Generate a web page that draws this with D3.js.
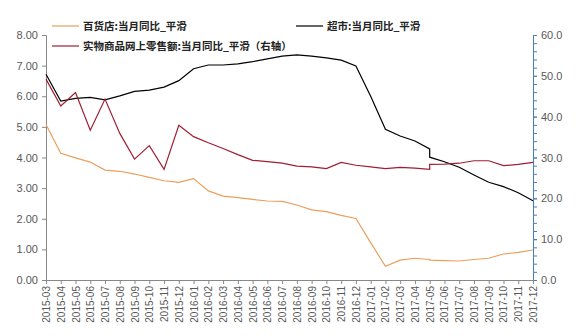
<!DOCTYPE html>
<html><head><meta charset="utf-8">
<script src="https://cdn.jsdelivr.net/npm/d3@7"></script>
<style>
html,body{margin:0;padding:0;background:#fff;}
svg{display:block;}
</style></head>
<body><svg id="c" width="585" height="336"></svg>
<script>
const months = ["2015-03","2015-04","2015-05","2015-06","2015-07","2015-08","2015-09","2015-10","2015-11","2015-12",
"2016-01","2016-02","2016-03","2016-04","2016-05","2016-06","2016-07","2016-08","2016-09","2016-10","2016-11","2016-12",
"2017-01","2017-02","2017-03","2017-04","2017-05","2017-06","2017-07","2017-08","2017-09","2017-10","2017-11","2017-12"];

// 百货店 (left axis)
const deptStore = [5.08,4.14,3.99,3.85,3.59,3.55,3.46,3.35,3.24,3.19,
3.31,2.91,2.74,2.69,2.63,2.58,2.57,2.45,2.29,2.23,2.11,2.01,
1.22,0.45,0.65,0.71,0.67,0.63,0.62,0.67,0.71,0.85,0.90,0.98];
// 超市 (left axis)
const supermarket = [6.72,5.84,5.93,5.96,5.88,6.01,6.16,6.20,6.30,6.51,
6.90,7.02,7.02,7.06,7.13,7.22,7.31,7.35,7.31,7.25,7.18,6.99,
6.00,4.92,4.70,4.54,4.28,3.86,3.68,3.43,3.19,3.05,2.85,2.59];
// 实物商品网上零售额 (right axis)
const onlineRetail = [49.2,42.6,45.9,36.7,44.3,35.9,29.6,32.9,27.1,37.9,
35.1,33.6,32.2,30.7,29.3,29.0,28.6,27.9,27.7,27.3,28.8,28.1,
27.7,27.3,27.6,27.4,27.1,28.4,28.6,29.2,29.2,28.0,28.3,28.8];
// values right after the break at 2017-05
const breakMonth = "2017-05";
const deptStoreAfter = 0.65, supermarketAfter = 4.01, onlineRetailAfter = 28.3;

const leftTicks = [0,1,2,3,4,5,6,7,8];
const rightTicks = [0,10,20,30,40,50,60];

const legendNames = ["百货店:当月同比_平滑","超市:当月同比_平滑","实物商品网上零售额:当月同比_平滑（右轴）"];
const colors = ["#E9A05C","#000000","#A01E33"];

const svg = d3.select("#c");
const L = 46, R = 533, T = 35, B = 280;

const x = d3.scalePoint().domain(months).range([L, R]);
const yL = d3.scaleLinear().domain([0, 8]).range([B, T]);
const yR = d3.scaleLinear().domain([0, 60]).range([B, T]);

const font = "Liberation Sans, Arial, sans-serif";

// left axis
const gL = svg.append("g").attr("transform", `translate(${L},0)`)
  .call(d3.axisLeft(yL).tickValues(leftTicks).tickFormat(d3.format(".2f")).tickSize(4).tickPadding(4));
gL.select(".domain").attr("stroke","#888");
gL.selectAll(".tick line").attr("stroke","#888");
gL.selectAll(".tick text").attr("fill","#595959").style("font-family",font).style("font-size","11px");

// right axis: minor ticks
const gRm = svg.append("g").attr("transform", `translate(${R},0)`)
  .call(d3.axisRight(yR).tickValues(d3.range(0, 61, 2)).tickFormat("").tickSize(4));
gRm.select(".domain").attr("stroke","#4A7EBB");
gRm.selectAll(".tick line").attr("stroke","#4A7EBB");
const gR = svg.append("g").attr("transform", `translate(${R},0)`)
  .call(d3.axisRight(yR).tickValues(rightTicks).tickFormat(d3.format(".1f")).tickSize(4).tickPadding(4));
gR.select(".domain").attr("stroke","#4A7EBB");
gR.selectAll(".tick line").attr("stroke","#4A7EBB");
gR.selectAll(".tick text").attr("fill","#595959").style("font-family",font).style("font-size","11px");

// x axis
const gX = svg.append("g").attr("transform", `translate(0,${B})`)
  .call(d3.axisBottom(x).tickSize(4).tickPadding(3));
gX.select(".domain").attr("stroke","#888");
gX.selectAll(".tick line").attr("stroke","#888");
gX.selectAll(".tick text")
  .attr("fill","#595959").style("font-family",font).style("font-size","10px")
  .attr("transform","rotate(-90)")
  .attr("text-anchor","end")
  .attr("x",-6).attr("y",0).attr("dy","0.35em");

function pts(vals, after, ys) {
  const out = [];
  months.forEach((m, i) => {
    out.push([x(m), ys(vals[i])]);
    if (m === breakMonth) out.push([x(m), ys(after)]);
  });
  return out;
}
const line = d3.line();
const series = [
  {vals: deptStore, after: deptStoreAfter, ys: yL, c: colors[0]},
  {vals: supermarket, after: supermarketAfter, ys: yL, c: colors[1]},
  {vals: onlineRetail, after: onlineRetailAfter, ys: yR, c: colors[2]}
];
series.forEach(s => {
  svg.append("path").attr("d", line(pts(s.vals, s.after, s.ys)))
    .attr("fill","none").attr("stroke", s.c).attr("stroke-width", 1.2);
});

// legend
const leg = [
  {x: 52, y: 26, name: legendNames[0], c: colors[0]},
  {x: 296, y: 26, name: legendNames[1], c: colors[1]},
  {x: 52, y: 46, name: legendNames[2], c: colors[2]}
];
leg.forEach(d => {
  svg.append("line").attr("x1", d.x).attr("x2", d.x + 27).attr("y1", d.y).attr("y2", d.y)
    .attr("stroke", d.c).attr("stroke-width", 1.2);
  svg.append("text").attr("x", d.x + 31).attr("y", d.y).attr("dy","0.35em")
    .attr("fill","#222").style("font-family","Noto Sans CJK SC, sans-serif")
    .style("font-size","10.5px").style("font-weight","bold").text(d.name);
});
</script>
</body></html>
